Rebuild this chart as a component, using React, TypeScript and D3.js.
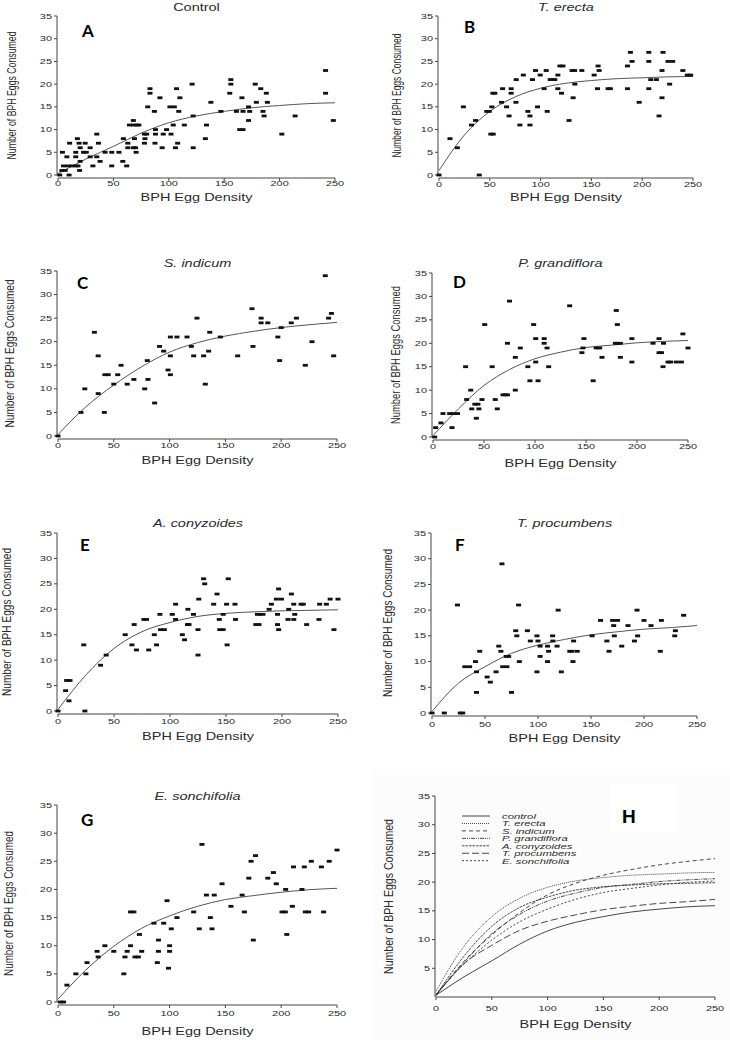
import React from 'react';
import * as d3 from 'd3';

// ---------- data ----------
const xTicks = [0, 50, 100, 150, 200, 250];
const yTicks = [0, 5, 10, 15, 20, 25, 30, 35];
const yTicksH = [5, 10, 15, 20, 25, 30, 35];
const curveX = [0, 25, 50, 75, 100, 125, 150, 175, 200, 225, 250];

const controlCurve = [0.3, 3.5, 6.3, 9.2, 11.5, 13.0, 14.0, 14.8, 15.3, 15.7, 15.9];
const erectaCurve = [1.0, 8.8, 14.0, 17.2, 19.1, 20.2, 20.8, 21.2, 21.4, 21.6, 21.7];
const indicumCurve = [0.3, 6.2, 10.8, 14.7, 17.8, 19.8, 21.2, 22.2, 23.0, 23.6, 24.1];
const grandifloraCurve = [0.3, 6.0, 11.0, 14.4, 16.7, 18.1, 19.1, 19.6, 20.1, 20.4, 20.6];
const conyzoidesCurve = [0.3, 7.1, 12.3, 15.6, 17.4, 18.6, 19.2, 19.5, 19.7, 19.8, 19.9];
const procumbensCurve = [0.3, 5.8, 9.0, 11.6, 13.2, 14.3, 15.2, 15.8, 16.3, 16.6, 17.0];
const sonchifoliaCurve = [0.5, 5.7, 9.9, 13.1, 15.3, 17.0, 18.2, 18.9, 19.5, 19.95, 20.2];

const controlPoints: [number, number][] = [
  [1.5,0],[10,0],[3.5,1],[6.5,1],[19.5,1],[5,2],[9,2],[12.5,2],[16,2],[18,2],[31.5,2],[48.5,2],[62,2],
  [20,3],[38,3],[58.5,3],[8,4],[16,4],[29,4],[35,4],[4,5],[16,5],[23,5],[25.5,5],[42.5,5],[48.5,5],
  [55,5],[70.5,5],[20,6],[29,6],[63,6],[68,6],[70,6],[94,6],[106,6],[122,6],[10.5,7],[19,7],[24.5,7],
  [36.5,7],[63,7],[78,7],[87.5,7],[108,7],[17.5,8],[59,8],[69,8],[78.5,8],[133,8],[35,9],[78,9],[80,9],
  [88,9],[95,9],[102,9],[202,9],[88,10],[98,10],[164,10],[167,10],[64.5,11],[68,11],[71,11],[73,11],
  [104,11],[114,11],[134,11],[68,12],[172,12],[248.5,12],[122,13],[186,13],[214,13],[87,14],[109,14],
  [147,14],[161,14],[167,14],[173,14],[185,14],[81,15],[101,15],[105,15],[172,15],[138,16],[179,16],
  [189,16],[92,17],[110,17],[166,17],[83,18],[155,18],[188,18],[241.5,18],[83,19],[107,19],[183,19],
  [121,20],[156,20],[178,20],[156,21],[241.5,23]
];

const erectaPoints: [number, number][] = [
  [0,0],[39.6,0],[10.8,8],[18,6],[24,15],[32,11],[36,12],[47,14],[49.5,14],[52,15],[51,9],[53.4,9],
  [53,18],[55,18],[62.6,19],[61.6,16],[66.5,15],[69,13],[71,19],[71,18],[75.7,16],[76,21],[79.6,11],
  [83,22],[87.5,14],[89.5,13],[89.5,11],[92,21],[95,23],[97,15],[99.6,22],[103.5,19],[105.5,23],
  [106.5,14],[109.5,21],[112,21],[114,21],[117,22],[117,19],[119,24],[122,24],[120.6,18],[128,12],
  [131,23],[133.5,23],[132,17],[133.7,20],[140.6,23],[152.7,22],[156,19],[156.6,24],[157.6,23],
  [166.4,19],[168.7,19],[185.5,24],[185.5,19],[188.4,27],[190,25],[197,16],[206.5,27],[206.5,25],
  [206.5,19],[208.4,21],[214,21],[216.6,13],[219.5,17],[219.5,23],[220.5,27],[225.4,25],[230,25],
  [227,20],[240,23],[244.4,22],[247.7,22]
];

const indicumPoints: [number, number][] = [
  [0,0],[20.6,5],[24,10],[32.6,22],[36,17],[36,9],[41.5,5],[42,13],[45,13],[50,11],[53.5,13],[56.5,15],
  [62,11],[68,12],[77.7,10],[80,16],[80.6,12],[86.6,7],[91,19],[94.7,18],[98.6,14],[100.7,17],
  [100.7,13],[100.7,21],[106.6,21],[115.6,21],[119.5,19],[121.6,17],[124.5,25],[130.5,17],[132,11],
  [135,18],[136,22],[145.5,21],[161,17],[173.8,27],[174.7,19],[182,25],[182,24],[188,24],[197,21],
  [198.6,16],[200,23],[209,24],[213.6,25],[221.6,15],[227.6,20],[239.5,34],[242.5,25],[245,26],[247,17]
];

const grandifloraPoints: [number, number][] = [
  [1.6,0],[2.6,2],[7.8,3],[9.8,5],[16.3,5],[19.6,5],[24,5],[18.6,2],[32,15],[33,8],[37,10],[38,6],
  [41,7],[44,7],[42.5,4],[45,6],[48,8],[50.7,24],[58,15],[61,8],[63,6],[68.6,9],[71,9],[73,9],[73,20],
  [75,29],[80.7,17],[80.7,10],[85.6,19],[93,15],[95,12],[98.7,24],[100.7,16],[100.7,21],[103,12],
  [109,21],[109,20],[111.8,19],[113.4,15],[134,28],[146,18],[147,19],[148,21],[157,12],[160,19],
  [163.4,19],[165.7,17],[178.8,20],[180.4,20],[179.7,27],[180.7,24],[183.7,20],[183.7,17],[195,21],
  [195,16],[215.7,20],[221.6,21],[221.6,18],[224,18],[225.5,15],[226,20],[230.4,16],[233,16],
  [238.6,16],[243.5,16],[245,22],[250,19]
];

const conyzoidesPoints: [number, number][] = [
  [0,0],[6.8,4],[7.7,6],[10.7,6],[9.8,2],[23,13],[24,0],[38,9],[43,11],[60,15],[66,13],[68,17],[70,12],
  [76.7,18],[79,18],[81,12],[86,15],[88,13],[91,19],[91.6,16],[95,16],[102,19],[105,18],[105,21],
  [111,15],[113,14],[115.6,17],[117,17],[116,20],[121,19],[125,16],[125,11],[125.7,22],[130,26],
  [131,25],[139,21],[142,23],[144,18],[144.5,16],[147.5,16],[147.5,19],[150.5,21],[151,13],[152,26],
  [158,21],[158.5,18],[176.6,17],[179.5,17],[178,19],[180,19],[183,19],[188.5,20],[190.5,21],[195,22],
  [199.5,22],[197,24],[196,19],[196,17],[197,16],[206,20],[205.4,18],[210.5,18],[208.4,23],[210.5,21],
  [211.4,19],[217,21],[219,21],[222,17],[233,18],[233.6,21],[239.6,21],[243,22],[246.4,16],[250,22]
];

const procumbensPoints: [number, number][] = [
  [0,0],[11.6,0],[24,21],[26.7,0],[29,0],[31,9],[35.5,9],[41,10],[42,8],[42,4],[45,12],[52,7],[55,6],
  [60.4,8],[63,13],[65,12],[66,29],[66.7,9],[70,11],[72.3,11],[70.7,9],[75,4],[79,16],[80,15],[81.7,21],
  [82.4,10],[90,16],[92.8,14],[99,15],[99,8],[100,14],[102,13],[102,11],[109,13],[109,10],[110,12],
  [113.8,15],[114,14],[119,20],[118,13],[122,8],[130,12],[132,12],[133.6,14],[133,10],[137,12],[151,15],
  [159,18],[165,14],[167,12],[170.4,18],[175,18],[171.4,17],[172,15],[179,13],[184.9,17],[191,14],
  [193.4,20],[194,15],[200,18],[206.6,17],[215.4,12],[216.4,18],[229.6,16],[229,15],[237.4,19]
];

const sonchifoliaPoints: [number, number][] = [
  [2,0],[5,0],[8,3],[16,5],[25,5],[26,7],[35,9],[36,8],[42,10],[50,9],[59,5],[60,8],[62,9],[65,16],
  [68,16],[65,10],[69,8],[72,8],[73,12],[75,9],[86,14],[89,7],[90,11],[90,9],[94.7,14],[97.7,18],[99,6],
  [100,10],[100,9],[101.5,13],[106.6,15],[121.6,16],[126.6,13],[129,28],[133,19],[136.5,15],[138,13],
  [140,19],[147,21],[155,17],[165,19],[167,16],[171,22],[173,25],[175,11],[177,26],[188,22],[193,23],
  [195.6,21],[200.7,16],[203.7,16],[204,20],[205,12],[210,17],[211,24],[218.6,20],[220.7,24],[221.6,16],
  [224.6,16],[227,25],[236,24],[238,16],[243,25],[250,27]
];

const legendNames = ['control', 'T. erecta', 'S. indicum', 'P. grandiflora', 'A. conyzoides', 'T. procumbens', 'E. sonchifolia'];
const legendCurves = [controlCurve, erectaCurve, indicumCurve, grandifloraCurve, conyzoidesCurve, procumbensCurve, sonchifoliaCurve];

// ---------- layout / styles ----------
const dashes = ['', '1,1', '4,3', '4,1,1,1,1,1', '2.5,1', '7,3', '2,2'];
const SX = 1.45;
const FONT = '"Liberation Sans", Arial, Helvetica, sans-serif';
const TXT = '#2a2a2a';
const AX = '#444';

type PanelSpec = {
  xl: number; xr: number; yb: number; yt: number; off: number;
  title: string; italic: boolean; titleY: number;
  letter: string; lx: number; ly: number;
  ylabX: number; ylabLen: number; xtickY: number; xlabY: number;
  points: [number, number][]; curve: number[];
};

const panels: PanelSpec[] = [
  { xl: 58, xr: 335, yb: 175, yt: 16, off: 3, title: 'Control', italic: false, titleY: 11, letter: 'A', lx: 82, ly: 37, ylabX: 16, ylabLen: 128, xtickY: 186, xlabY: 201, points: controlPoints, curve: controlCurve },
  { xl: 439, xr: 693, yb: 175, yt: 16, off: 3, title: 'T. erecta', italic: true, titleY: 11, letter: 'B', lx: 464, ly: 33, ylabX: 401, ylabLen: 124, xtickY: 187, xlabY: 201, points: erectaPoints, curve: erectaCurve },
  { xl: 58, xr: 337, yb: 436, yt: 271, off: 3, title: 'S. indicum', italic: true, titleY: 267, letter: 'C', lx: 77, ly: 289, ylabX: 14, ylabLen: 148, xtickY: 448, xlabY: 464, points: indicumPoints, curve: indicumCurve },
  { xl: 433, xr: 688, yb: 437, yt: 273, off: 3, title: 'P. grandiflora', italic: true, titleY: 267, letter: 'D', lx: 453, ly: 288, ylabX: 400, ylabLen: 138, xtickY: 449, xlabY: 467, points: grandifloraPoints, curve: grandifloraCurve },
  { xl: 58, xr: 338, yb: 711, yt: 533, off: 3, title: 'A. conyzoides', italic: true, titleY: 527, letter: 'E', lx: 80, ly: 551, ylabX: 11, ylabLen: 148, xtickY: 724, xlabY: 740, points: conyzoidesPoints, curve: conyzoidesCurve },
  { xl: 432, xr: 697, yb: 713, yt: 533, off: 3, title: 'T. procumbens', italic: true, titleY: 527, letter: 'F', lx: 455, ly: 551, ylabX: 392, ylabLen: 148, xtickY: 727, xlabY: 742, points: procumbensPoints, curve: procumbensCurve },
  { xl: 58, xr: 337, yb: 1002, yt: 805, off: 3, title: 'E. sonchifolia', italic: true, titleY: 800, letter: 'G', lx: 81, ly: 826, ylabX: 13, ylabLen: 145, xtickY: 1016, xlabY: 1035, points: sonchifoliaPoints, curve: sonchifoliaCurve },
];

const hSpec = { xl: 436, xr: 715, yb: 997, yt: 796, ylabX: 393, ylabLen: 155, xtickY: 1011, xlabY: 1028 };

function HText({ x, y, size, children, anchor = 'middle', italic = false, weight = 'normal', fill = TXT, sx = SX }: any) {
  return (
    <text transform={`translate(${x},${y}) scale(${sx},1)`} textAnchor={anchor} fontFamily={FONT}
      fontSize={size} fontStyle={italic ? 'italic' : 'normal'} fontWeight={weight} fill={fill}>
      {children}
    </text>
  );
}

function YLabel({ x, y, len }: { x: number; y: number; len: number }) {
  return (
    <text transform={`translate(${x},${y}) rotate(-90) scale(1,${SX})`} textAnchor="middle" fontFamily={FONT}
      fontSize={8.8} fill={TXT} textLength={len} lengthAdjust="spacingAndGlyphs">
      Number of BPH Eggs Consumed
    </text>
  );
}

function Axes({ x, y, off, ticksY }: { x: d3.ScaleLinear<number, number>; y: d3.ScaleLinear<number, number>; off: number; ticksY: number[] }) {
  const ax = x(0) - 1;
  const ay = y(0) + off;
  return (
    <g>
      <line x1={ax} x2={ax} y1={y(0)} y2={y(35)} stroke={AX} strokeWidth={1} />
      {ticksY.map(t => (
        <g key={'y' + t}>
          <line x1={ax - 3} x2={ax} y1={y(t)} y2={y(t)} stroke={AX} strokeWidth={1} />
          <HText x={ax - 5} y={y(t) + 2.6} size={7.3} anchor="end" sx={1.5}>{t}</HText>
        </g>
      ))}
      <line x1={x(0)} x2={x(250)} y1={ay} y2={ay} stroke={AX} strokeWidth={1} />
      {xTicks.map(t => (
        <line key={'x' + t} x1={x(t)} x2={x(t)} y1={ay} y2={ay + 3} stroke={AX} strokeWidth={1} />
      ))}
    </g>
  );
}

function XTickLabels({ x, yPos }: { x: d3.ScaleLinear<number, number>; yPos: number }) {
  return (
    <g>
      {xTicks.map(t => (
        <HText key={t} x={x(t)} y={yPos} size={7.3} sx={1.5}>{t}</HText>
      ))}
    </g>
  );
}

function Panel({ p }: { p: PanelSpec }) {
  const x = d3.scaleLinear().domain([0, 250]).range([p.xl, p.xr]);
  const y = d3.scaleLinear().domain([0, 35]).range([p.yb, p.yt]);
  const line = d3.line<number>().x((_, i) => x(curveX[i])).y(d => y(d)).curve(d3.curveMonotoneX);
  const cx = (p.xl + p.xr) / 2;
  return (
    <g>
      <HText x={cx} y={p.titleY} size={10} italic={p.italic}>{p.title}</HText>
      <text x={p.lx} y={p.ly} fontFamily="Lato, 'Open Sans', sans-serif" fontWeight="bold" fontSize={17} fill="#000">{p.letter}</text>
      <Axes x={x} y={y} off={p.off} ticksY={yTicks} />
      <XTickLabels x={x} yPos={p.xtickY} />
      <HText x={cx} y={p.xlabY} size={10}>BPH Egg Density</HText>
      <YLabel x={p.ylabX} y={(p.yb + p.yt) / 2} len={p.ylabLen} />
      <path d={line(p.curve) || ''} fill="none" stroke="#555" strokeWidth={1} />
      {p.points.map((d, i) => (
        <rect key={i} x={x(d[0]) - 2.5} y={y(d[1]) - 1.4} width={5} height={2.8} fill="#111" />
      ))}
    </g>
  );
}

function PanelH() {
  const s = hSpec;
  const x = d3.scaleLinear().domain([0, 250]).range([s.xl, s.xr]);
  const y = d3.scaleLinear().domain([0, 35]).range([s.yb, s.yt]);
  const line = d3.line<number>().x((_, i) => x(curveX[i])).y(d => y(d)).curve(d3.curveMonotoneX);
  const cx = (s.xl + s.xr) / 2;
  const legY0 = 816;
  const legStep = 7.45;
  return (
    <g>
      <rect x={372} y={770} width={358} height={270} fill="#fcfcfc" />
      <rect x={610} y={783} width={65} height={50} fill="#ffffff" />
      <text x={622} y={823} fontFamily={FONT} fontWeight="bold" fontSize={19} fill="#000">H</text>
      <Axes x={x} y={y} off={0} ticksY={yTicksH} />
      <XTickLabels x={x} yPos={s.xtickY} />
      <HText x={cx} y={s.xlabY} size={10}>BPH Egg Density</HText>
      <YLabel x={s.ylabX} y={(s.yb + s.yt) / 2} len={s.ylabLen} />
      {legendCurves.map((c, i) => (
        <path key={'c' + i} d={line(c) || ''} fill="none" stroke="#333" strokeWidth={0.9} strokeDasharray={dashes[i]} />
      ))}
      {legendNames.map((n, i) => (
        <g key={'l' + i}>
          <line x1={462} x2={490} y1={legY0 + i * legStep} y2={legY0 + i * legStep} stroke="#333" strokeWidth={0.9} strokeDasharray={dashes[i]} />
          <HText x={502} y={legY0 + i * legStep + 2.8} size={7.8} anchor="start" italic>{n}</HText>
        </g>
      ))}
    </g>
  );
}

export default function App() {
  return (
    <svg width={730} height={1040} viewBox="0 0 730 1040"
      style={{ position: 'absolute', left: 0, top: 0, display: 'block', background: '#fff' }}>
      <rect x={0} y={0} width={730} height={1040} fill="#fff" />
      {panels.map(p => <Panel key={p.letter} p={p} />)}
      <PanelH />
    </svg>
  );
}
